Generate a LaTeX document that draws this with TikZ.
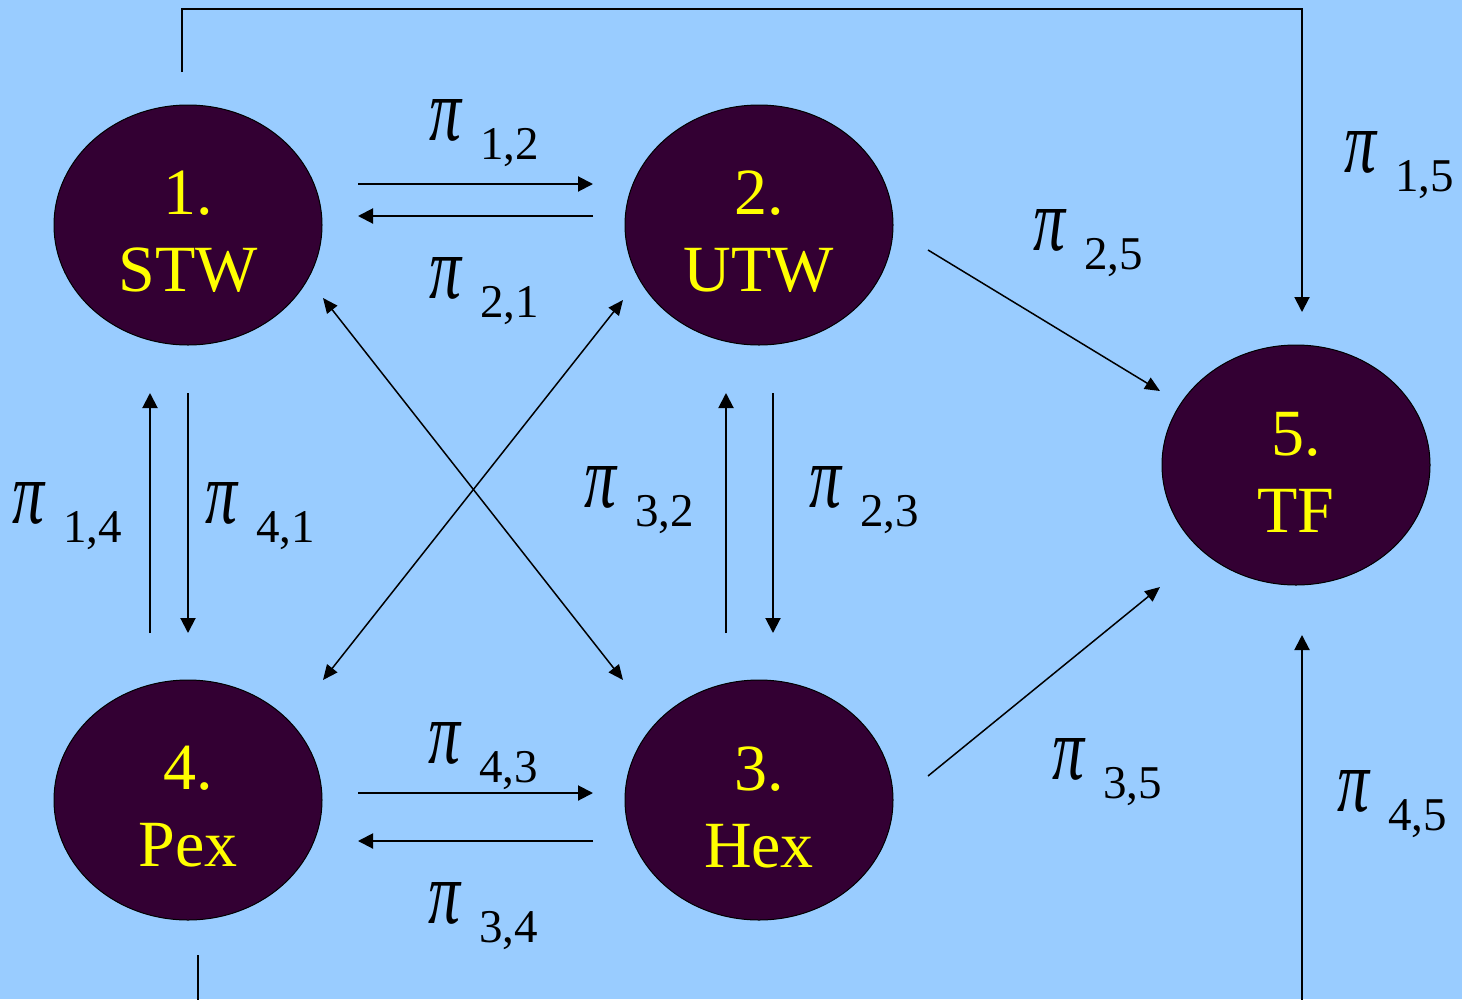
\documentclass[tikz,border=0pt]{standalone}
\usepackage{fontspec}
\setmainfont{Liberation Serif}
\newfontfamily\tnr{Liberation Serif}
\usetikzlibrary{arrows.meta,shapes.geometric}
\definecolor{bgcol}{HTML}{99CCFF}
\definecolor{nodecol}{HTML}{330033}
\definecolor{txtcol}{HTML}{FFFF00}
\newcommand{\mypi}{\resizebox{32pt}{41pt}{\tnr\itshape π}}
\newcommand{\pilab}[1]{\mypi\hspace{19pt}\raisebox{-19pt}{#1}}
\begin{document}
\begin{tikzpicture}[x=1pt,y=-1pt,
  st/.style={ellipse, draw=black, line width=1pt, fill=nodecol,
    minimum width=268pt, minimum height=240pt, inner sep=0pt},
  stt/.style={text=txtcol, align=center, inner sep=0pt, yshift=-7pt,
    font=\tnr\fontsize{66}{77}\selectfont},
  ar/.style={line width=2pt, -{Triangle[length=15pt,width=15pt]}},
  dar/.style={line width=1.5pt, {Triangle[length=15pt,width=13pt]}-{Triangle[length=15pt,width=13pt]}},
  sar/.style={line width=1.5pt, -{Triangle[length=15pt,width=13pt]}},
  pl/.style={anchor=base west, inner sep=0pt, font=\tnr\fontsize{47}{47}\selectfont}]
\fill[bgcol] (0,0) rectangle (1462,999);
\useasboundingbox (0,0) rectangle (1462,999);
\clip (0,0) rectangle (1462,999);

% states
\node[st, label={[stt]center:{1.\\STW}}] (n1) at (188,225) {};
\node[st, label={[stt]center:{2.\\UTW}}] (n2) at (759,225) {};
\node[st, label={[stt]center:{3.\\Hex}}] (n3) at (759,800) {};
\node[st, label={[stt]center:{4.\\Pex}}] (n4) at (188,800) {};
\node[st, label={[stt]center:{5.\\TF}}] (n5) at (1296,465) {};

% connector end points
\coordinate (a12s) at (358,184);  \coordinate (a12e) at (593,184);
\coordinate (a21s) at (593,216);  \coordinate (a21e) at (358,216);
\coordinate (a14s) at (150,633);  \coordinate (a14e) at (150,393);
\coordinate (a41s) at (188,393);  \coordinate (a41e) at (188,633);
\coordinate (a32s) at (726,633);  \coordinate (a32e) at (726,393);
\coordinate (a23s) at (773,393);  \coordinate (a23e) at (773,633);
\coordinate (a43s) at (358,793);  \coordinate (a43e) at (593,793);
\coordinate (a34s) at (593,841);  \coordinate (a34e) at (358,841);
\coordinate (d13a) at (323,298);  \coordinate (d13b) at (623,680);
\coordinate (d24a) at (623,300);  \coordinate (d24b) at (323,680);
\coordinate (a25s) at (928,250);  \coordinate (a25e) at (1160,391);
\coordinate (a35s) at (928,776);  \coordinate (a35e) at (1160,587);
\coordinate (t15s) at (182,72);   \coordinate (t15c) at (1302,9);
\coordinate (t15e) at (1302,312);
\coordinate (b45s) at (198,955);  \coordinate (b45c) at (1302,1015);
\coordinate (b45e) at (1302,635);

% connectors
\draw[ar] (a12s) -- (a12e);
\draw[ar] (a21s) -- (a21e);
\draw[ar] (a14s) -- (a14e);
\draw[ar] (a41s) -- (a41e);
\draw[ar] (a32s) -- (a32e);
\draw[ar] (a23s) -- (a23e);
\draw[ar] (a43s) -- (a43e);
\draw[ar] (a34s) -- (a34e);
\draw[dar] (d13a) -- (d13b);
\draw[dar] (d24a) -- (d24b);
\draw[sar] (a25s) -- (a25e);
\draw[sar] (a35s) -- (a35e);
\draw[ar] (t15s) |- (t15c) -- (t15e);
\draw[ar] (b45s) |- (b45c) -- (b45e);

% labels
\node[pl] (p12) at (429,140) {\pilab{1,2}};
\node[pl] (p21) at (429,298) {\pilab{2,1}};
\node[pl] (p15) at (1344,172) {\pilab{1,5}};
\node[pl] (p25) at (1033,250) {\pilab{2,5}};
\node[pl] (p14) at (12,523) {\pilab{1,4}};
\node[pl] (p41) at (205,523) {\pilab{4,1}};
\node[pl] (p32) at (584,507) {\pilab{3,2}};
\node[pl] (p23) at (809,507) {\pilab{2,3}};
\node[pl] (p43) at (428,763) {\pilab{4,3}};
\node[pl] (p34) at (428,923) {\pilab{3,4}};
\node[pl] (p35) at (1052,779) {\pilab{3,5}};
\node[pl] (p45) at (1337,811) {\pilab{4,5}};
\end{tikzpicture}
\end{document}
